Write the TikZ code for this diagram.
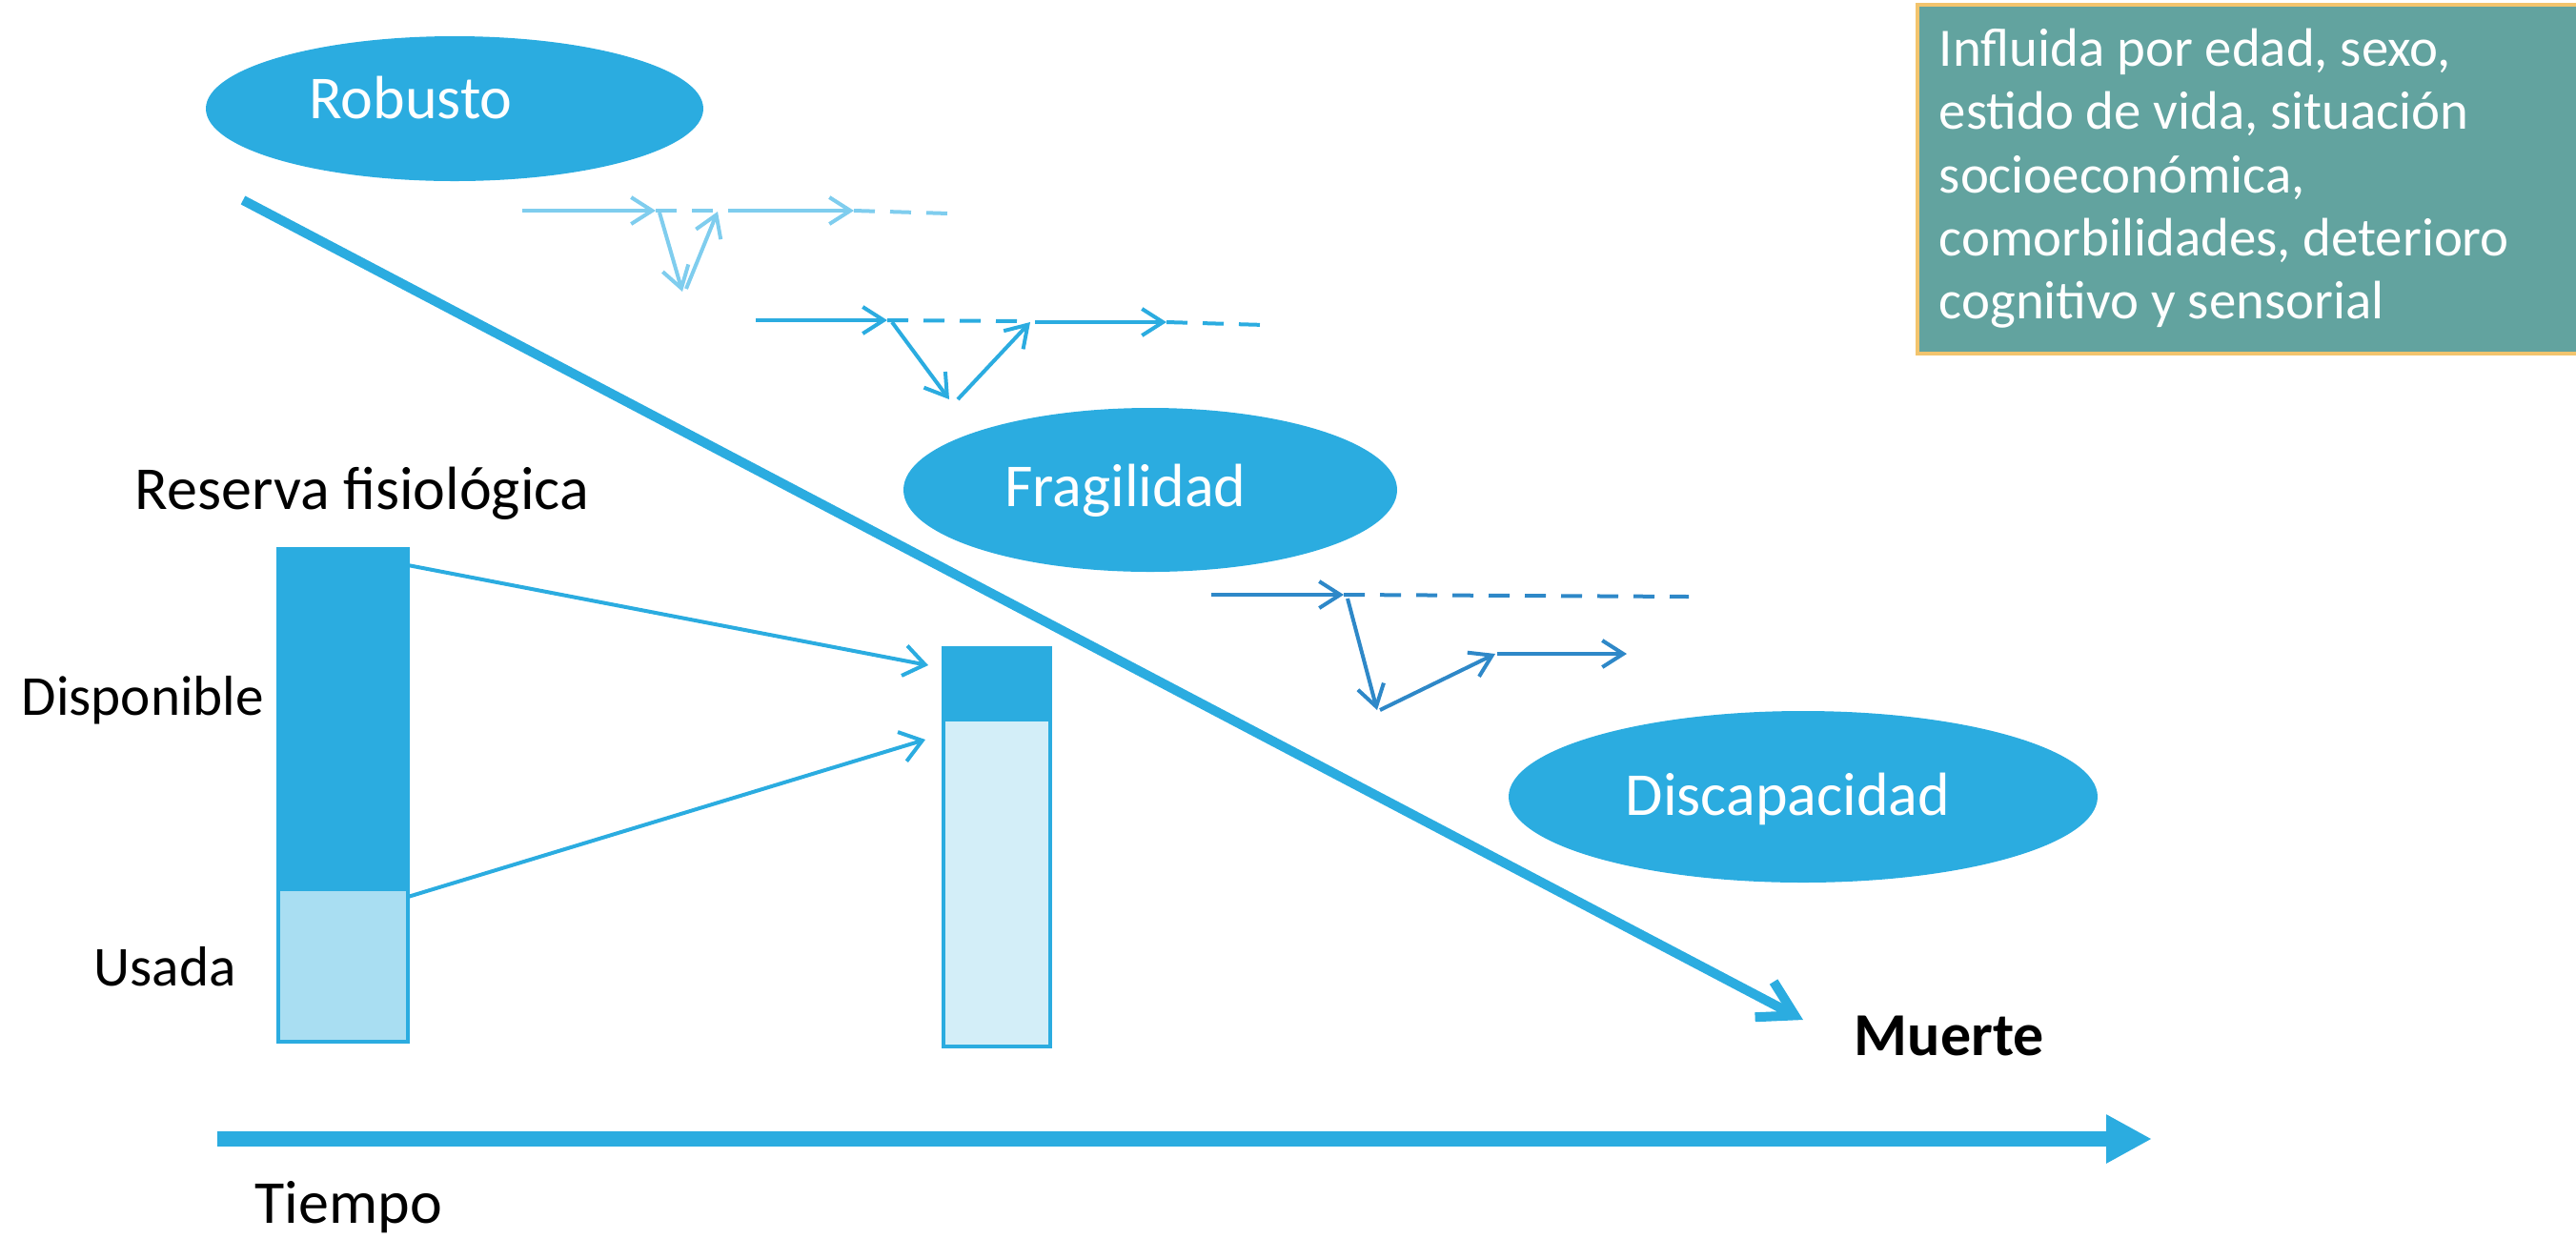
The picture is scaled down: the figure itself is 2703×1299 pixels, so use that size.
\documentclass[tikz,border=0pt]{standalone}
\usepackage{fontspec}
\setmainfont{Carlito}
\usetikzlibrary{arrows.meta,shapes.geometric}
\definecolor{mainblue}{HTML}{2BACE0}
\definecolor{paleblue}{HTML}{7FCDEE}
\definecolor{deepblue}{HTML}{2E88C8}
\definecolor{usedfill}{HTML}{A9DEF2}
\definecolor{usedfilltwo}{HTML}{D3EEF8}
\definecolor{boxteal}{HTML}{62A39F}
\definecolor{boxedge}{HTML}{F2C46D}
\begin{document}
\begin{tikzpicture}[x=0.25pt,y=-0.25pt,
  stage/.style={ellipse, fill=mainblue, draw=none, inner sep=0pt},
  stagetext/.style={text=white, font=\fontsize{16}{19}\selectfont, anchor=base, inner sep=0pt},
  lbl/.style={font=\fontsize{16}{19}\selectfont, anchor=base west, inner sep=0pt},
  sidelbl/.style={font=\fontsize{14.8}{18}\selectfont, anchor=base west, inner sep=0pt},
  boxtext/.style={text=white, font=\fontsize{14.2}{17}\selectfont, anchor=base west, inner sep=0pt},
  smallarrow/.style={line width=1pt, -{Straight Barb[length=5.5pt,width=7pt]}},
  dashline/.style={line width=1pt, dash pattern=on 5.5pt off 4pt},
  bararrow/.style={line width=1pt, mainblue, -{Straight Barb[length=5.5pt,width=8pt]}},
  barpart/.style={draw=mainblue, line width=1pt, inner sep=0pt, anchor=north west}
]
\useasboundingbox (0,0) rectangle (2703,1299);

% stage ellipses
\node[stage, minimum width=130.5pt, minimum height=38pt] (rob) at (477,114) {};
\node[stage, minimum width=129.5pt, minimum height=43pt] (fra) at (1207,514) {};
\node[stage, minimum width=154.5pt, minimum height=45pt] (dis) at (1892,836) {};
\node[stagetext] (robT) at (431,124) {Robusto};
\node[stagetext] (fraT) at (1181,531) {Fragilidad};
\node[stagetext] (disT) at (1876,855) {Discapacidad};

% main diagonal arrow
\coordinate (diagS) at (255,210);
\coordinate (diagE) at (1892,1070);
\draw[mainblue, line width=2.5pt, -{Straight Barb[length=9pt,width=10.5pt]}] (diagS) -- (diagE);

% time axis
\coordinate (timeS) at (228,1195);
\coordinate (timeE) at (2258,1195);
\draw[mainblue, line width=4pt, -{Triangle[length=12pt,width=12pt]}] (timeS) -- (timeE);

% group 1 (pale)
\coordinate (g1a) at (548,221);
\coordinate (g1b) at (688,221);
\coordinate (g1c) at (758,221);
\coordinate (g1d) at (692,223);
\coordinate (g1e) at (716,306);
\coordinate (g1f) at (720,303);
\coordinate (g1g) at (753,222);
\coordinate (g1h) at (764,221);
\coordinate (g1i) at (896,221);
\coordinate (g1j) at (996,224);
\begin{scope}[paleblue]
\draw[smallarrow] (g1a) -- (g1b);
\draw[dashline] (g1b) -- (g1c);
\draw[smallarrow] (g1d) -- (g1e);
\draw[smallarrow] (g1f) -- (g1g);
\draw[smallarrow] (g1h) -- (g1i);
\draw[dashline] (g1i) -- (g1j);
\end{scope}

% group 2
\coordinate (g2a) at (793,336);
\coordinate (g2b) at (931,336);
\coordinate (g2c) at (1078,337);
\coordinate (g2d) at (936,338);
\coordinate (g2e) at (996,419);
\coordinate (g2f) at (1005,419);
\coordinate (g2g) at (1081,338);
\coordinate (g2h) at (1086,338);
\coordinate (g2i) at (1224,338);
\coordinate (g2j) at (1328,341);
\begin{scope}[mainblue]
\draw[smallarrow] (g2a) -- (g2b);
\draw[dashline] (g2b) -- (g2c);
\draw[smallarrow] (g2d) -- (g2e);
\draw[smallarrow] (g2f) -- (g2g);
\draw[smallarrow] (g2h) -- (g2i);
\draw[dashline] (g2i) -- (g2j);
\end{scope}

% group 3
\coordinate (g3a) at (1271,624);
\coordinate (g3b) at (1410,624);
\coordinate (g3c) at (1772,626);
\coordinate (g3d) at (1414,628);
\coordinate (g3e) at (1445,745);
\coordinate (g3f) at (1448,745);
\coordinate (g3g) at (1569,686);
\coordinate (g3h) at (1571,686);
\coordinate (g3i) at (1707,686);
\begin{scope}[deepblue]
\draw[smallarrow] (g3a) -- (g3b);
\draw[dashline] (g3b) -- (g3c);
\draw[smallarrow] (g3d) -- (g3e);
\draw[smallarrow] (g3f) -- (g3g);
\draw[smallarrow] (g3h) -- (g3i);
\end{scope}

% info box
\node[draw=boxedge, fill=boxteal, line width=1pt, inner sep=0pt, anchor=north west,
      minimum width=180pt, minimum height=91.5pt] (infobox) at (2010,3) {};
\node[boxtext] (bl1) at (2034,69) {Influida por edad, sexo,};
\node[boxtext] (bl2) at (2034,135) {estido de vida, situación};
\node[boxtext] (bl3) at (2034,202) {socioeconómica,};
\node[boxtext] (bl4) at (2034,268) {comorbilidades, deterioro};
\node[boxtext] (bl5) at (2034,334) {cognitivo y sensorial};

% labels
\node[lbl] (reserva) at (141,534) {Reserva fisiológica};
\node[sidelbl] (disp) at (22,750) {Disponible};
\node[sidelbl] (usada) at (98,1034) {Usada};
\node[lbl, font=\fontsize{16}{19}\selectfont\bfseries] (muerte) at (1945,1107) {Muerte};
\node[lbl] (tiempo) at (267,1283) {Tiempo};

% bars
\node[barpart, fill=mainblue, minimum width=34pt, minimum height=89.25pt] (Ldisp) at (290,574) {};
\node[barpart, fill=usedfill, minimum width=34pt, minimum height=40pt] (Lused) at (290,931) {};
\node[barpart, fill=mainblue, minimum width=28pt, minimum height=18.75pt] (Rdisp) at (988,678) {};
\node[barpart, fill=usedfilltwo, minimum width=28pt, minimum height=85.75pt] (Rused) at (988,753) {};

% bar arrows
\coordinate (ba1s) at (428,593);
\coordinate (ba1e) at (974,698);
\coordinate (ba2s) at (428,941);
\coordinate (ba2e) at (971,776);
\draw[bararrow] (ba1s) -- (ba1e);
\draw[bararrow] (ba2s) -- (ba2e);
\end{tikzpicture}
\end{document}
